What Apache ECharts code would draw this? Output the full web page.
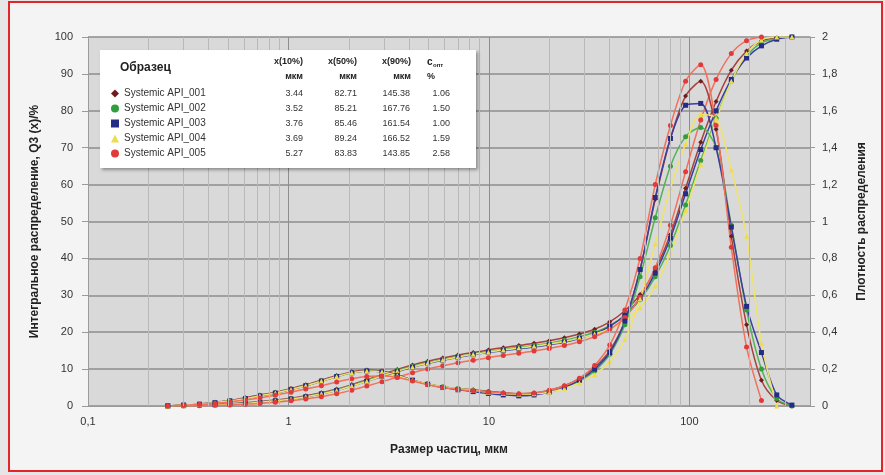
<!DOCTYPE html>
<html>
<head>
<meta charset="utf-8">
<script src="https://cdn.jsdelivr.net/npm/echarts@6/dist/echarts.min.js"></script>
<style>
  html, body { margin: 0; padding: 0; background: #e6e6e6; }
  #frame { position: absolute; left: 8px; top: 1px; width: 871px; height: 467px; border: 2px solid #e3242b; background: #f4f4f4; }
  #chart { position: absolute; left: 0; top: 0; width: 885px; height: 475px; }
</style>
</head>
<body>
<div id="frame"></div>
<div id="chart"></div>
<script>
// particle size classes, µm
const sizes = [0.25, 0.30, 0.36, 0.43, 0.51, 0.61, 0.72, 0.86, 1.03, 1.22, 1.46, 1.74, 2.07, 2.46, 2.93, 3.49, 4.16, 4.95, 5.89, 7.01,
  8.35, 9.94, 11.8, 14.1, 16.8, 20.0, 23.8, 28.3, 33.7, 40.1, 47.7, 56.8, 67.6, 80.5, 95.8, 114, 136, 162, 193, 229, 273, 325];

const names = ['Systemic API_001', 'Systemic API_002', 'Systemic API_003', 'Systemic API_004', 'Systemic API_005'];
const x10 = ['3.44', '3.52', '3.76', '3.69', '5.27'];
const x50 = ['82.71', '85.21', '85.46', '89.24', '83.83'];
const x90 = ['145.38', '167.76', '161.54', '166.52', '143.85'];
const copt = ['1.06', '1.50', '1.00', '1.59', '2.58'];

// cumulative Q3, %
const q3_001 = [0, 0.1, 0.25, 0.4, 0.6, 0.9, 1.2, 1.6, 2.1, 2.8, 3.6, 4.6, 5.8, 7.1, 8.5, 9.9, 11.1, 12.1, 13.0, 13.8, 14.5,
  15.2, 15.8, 16.4, 17.0, 17.7, 18.5, 19.5, 20.8, 22.8, 25.8, 30.2, 37.0, 46.5, 59.0, 71.5, 82.5, 91.0, 96.2, 98.9, 99.8, 100];
const q3_002 = [0, 0.1, 0.2, 0.35, 0.55, 0.8, 1.1, 1.5, 2.0, 2.6, 3.4, 4.4, 5.6, 6.9, 8.3, 9.6, 10.8, 11.8, 12.6, 13.4, 14.1,
  14.7, 15.3, 15.9, 16.4, 17.0, 17.8, 18.8, 20.0, 21.8, 24.6, 28.8, 35.0, 43.5, 54.5, 66.5, 78.0, 88.0, 94.8, 98.4, 99.6, 100];
const q3_003 = [0, 0.1, 0.2, 0.35, 0.5, 0.75, 1.05, 1.4, 1.9, 2.5, 3.3, 4.2, 5.4, 6.7, 8.0, 9.3, 10.5, 11.5, 12.4, 13.2, 13.9,
  14.5, 15.0, 15.5, 16.0, 16.6, 17.3, 18.3, 19.6, 21.6, 24.6, 29.2, 36.0, 45.5, 57.5, 69.5, 80.0, 88.5, 94.3, 97.6, 99.4, 100];
const q3_004 = [0, 0.1, 0.2, 0.3, 0.5, 0.7, 1.0, 1.4, 1.9, 2.5, 3.3, 4.2, 5.4, 6.7, 8.1, 9.4, 10.6, 11.6, 12.5, 13.3, 14.0,
  14.6, 15.2, 15.7, 16.2, 16.8, 17.5, 18.4, 19.5, 20.9, 23.0, 26.6, 32.5, 41.5, 53.0, 65.5, 77.5, 88.0, 95.5, 99.2, 100, 100];
const q3_005 = [0, 0.05, 0.1, 0.2, 0.3, 0.5, 0.7, 1.0, 1.4, 1.9, 2.5, 3.3, 4.3, 5.4, 6.6, 7.8, 9.0, 10.0, 10.9, 11.7, 12.4,
  13.1, 13.7, 14.3, 14.9, 15.6, 16.4, 17.4, 18.8, 20.8, 24.0, 29.5, 37.5, 49.0, 63.5, 77.5, 88.5, 95.5, 99.0, 100, null, null];

// density q3lg
const q3lg_001 = [0, 0.005, 0.01, 0.02, 0.03, 0.045, 0.06, 0.075, 0.095, 0.115, 0.14, 0.165, 0.185, 0.195, 0.19, 0.17, 0.14, 0.12,
  0.105, 0.095, 0.088, 0.08, 0.072, 0.066, 0.07, 0.085, 0.11, 0.15, 0.21, 0.30, 0.46, 0.74, 1.12, 1.45, 1.68, 1.76, 1.50, 0.92,
  0.44, 0.14, 0.03, 0];
const q3lg_002 = [0, 0.005, 0.01, 0.018, 0.028, 0.04, 0.055, 0.07, 0.09, 0.11, 0.135, 0.16, 0.18, 0.19, 0.185, 0.165, 0.14, 0.12,
  0.105, 0.095, 0.085, 0.076, 0.068, 0.062, 0.065, 0.078, 0.10, 0.135, 0.19, 0.28, 0.44, 0.70, 1.02, 1.30, 1.46, 1.51, 1.40, 0.98,
  0.52, 0.20, 0.04, 0];
const q3lg_003 = [0, 0.005, 0.01, 0.018, 0.028, 0.04, 0.055, 0.07, 0.09, 0.11, 0.135, 0.16, 0.18, 0.19, 0.185, 0.165, 0.14, 0.118,
  0.10, 0.088, 0.078, 0.068, 0.06, 0.055, 0.06, 0.075, 0.10, 0.14, 0.20, 0.29, 0.46, 0.74, 1.13, 1.45, 1.63, 1.64, 1.40, 0.97,
  0.54, 0.29, 0.06, 0.005];
const q3lg_004 = [0, 0.005, 0.01, 0.018, 0.028, 0.04, 0.055, 0.07, 0.09, 0.11, 0.135, 0.16, 0.18, 0.19, 0.185, 0.165, 0.14, 0.12,
  0.105, 0.094, 0.084, 0.075, 0.068, 0.064, 0.066, 0.075, 0.095, 0.125, 0.17, 0.24, 0.36, 0.58, 0.88, 1.18, 1.42, 1.58, 1.56, 1.28,
  0.92, 0.34, 0, null];
const q3lg_005 = [0, 0.004, 0.008, 0.014, 0.022, 0.032, 0.044, 0.058, 0.075, 0.092, 0.11, 0.13, 0.148, 0.16, 0.162, 0.155, 0.135,
  0.115, 0.10, 0.09, 0.082, 0.076, 0.07, 0.066, 0.07, 0.085, 0.11, 0.15, 0.22, 0.33, 0.52, 0.80, 1.20, 1.52, 1.76, 1.85, 1.52, 0.86,
  0.32, 0.03, null, null];

// minor vertical gridlines of the log axis
const minorTicks = [0.2, 0.3, 0.4, 0.5, 0.6, 0.7, 0.8, 0.9, 2, 3, 4, 5, 6, 7, 8, 9, 20, 30, 40, 50, 60, 70, 80, 90, 200, 300];

const cumulative = [q3_001, q3_002, q3_003, q3_004, q3_005];
const density = [q3lg_001, q3lg_002, q3lg_003, q3lg_004, q3lg_005];

const lineColors = ['#a8403c', '#52b452', '#3a3f9e', '#f0e36a', '#f2705c'];
const markColors = ['#6e1c1e', '#2f9e3f', '#262b86', '#efdc4e', '#e23a3a'];
const symbols = ['diamond', 'circle', 'rect', 'triangle', 'circle'];

const FONT = '"Liberation Sans", Arial, sans-serif';

function toPoints(values) {
  const pts = [];
  sizes.forEach((x, i) => {
    if (values[i] !== null && values[i] !== undefined) pts.push([x, values[i]]);
  });
  return pts;
}

function makeSeries(i, values, axis) {
  return {
    name: names[i],
    type: 'line',
    yAxisIndex: axis,
    data: toPoints(values),
    smooth: 0.3,
    symbol: symbols[i],
    symbolSize: 5,
    showSymbol: true,
    lineStyle: { color: lineColors[i], width: 1.5 },
    itemStyle: { color: markColors[i] },
    z: 2
  };
}

const series = [
  {
    name: 'minor',
    type: 'line',
    data: [],
    silent: true,
    z: 1,
    markLine: {
      silent: true,
      symbol: ['none', 'none'],
      label: { show: false },
      lineStyle: { color: '#b9b9b9', width: 1, type: 'solid' },
      emphasis: { disabled: true },
      data: minorTicks.map(v => ({ xAxis: v }))
    }
  }
];
cumulative.forEach((v, i) => series.push(makeSeries(i, v, 0)));
density.forEach((v, i) => series.push(makeSeries(i, v, 1)));

function isDecade(v) {
  const l = Math.log10(v);
  return Math.abs(l - Math.round(l)) < 1e-6;
}

const headFont = 'bold 9px ' + FONT;

const chart = echarts.init(document.getElementById('chart'));
chart.setOption({
  animation: false,
  textStyle: { fontFamily: FONT },
  grid: { left: 88, right: 75, top: 37, bottom: 69, show: true, backgroundColor: '#d9d9d9', borderWidth: 0 },
  legend: {
    orient: 'vertical',
    left: 111,
    top: 88,
    itemWidth: 8,
    itemHeight: 8,
    itemGap: 4,
    padding: 0,
    selectedMode: false,
    z: 60,
    data: names.map((n, i) => ({ name: n, icon: symbols[i] })),
    formatter: function (name) {
      const i = names.indexOf(name);
      return '{n|' + name + '}{a|' + x10[i] + '}{b|' + x50[i] + '}{c|' + x90[i] + '}{d|' + copt[i] + '}';
    },
    textStyle: {
      fontSize: 10, color: '#333', fontFamily: FONT,
      rich: {
        n: { width: 136, fontSize: 10, height: 11, lineHeight: 11, color: '#333' },
        a: { width: 43, align: 'right', fontSize: 9, height: 11, lineHeight: 11, color: '#333' },
        b: { width: 54, align: 'right', fontSize: 9, height: 11, lineHeight: 11, color: '#333' },
        c: { width: 53, align: 'right', fontSize: 9, height: 11, lineHeight: 11, color: '#333' },
        d: { width: 40, align: 'right', fontSize: 9, height: 11, lineHeight: 11, color: '#333' }
      }
    }
  },
  graphic: [
    {
      type: 'rect', z: 50, zlevel: 0, silent: true,
      shape: { x: 100, y: 50, width: 376, height: 118 },
      style: { fill: '#ffffff', shadowBlur: 3, shadowOffsetX: 2, shadowOffsetY: 2, shadowColor: 'rgba(0,0,0,0.35)' }
    },
    { type: 'text', z: 61, x: 120, y: 68, style: { text: 'Образец', font: 'bold 12px ' + FONT, fill: '#222', align: 'left', verticalAlign: 'middle' } },
    { type: 'text', z: 61, x: 303, y: 62, style: { text: 'x(10%)', font: headFont, fill: '#222', align: 'right', verticalAlign: 'middle' } },
    { type: 'text', z: 61, x: 303, y: 77, style: { text: 'мкм', font: headFont, fill: '#222', align: 'right', verticalAlign: 'middle' } },
    { type: 'text', z: 61, x: 357, y: 62, style: { text: 'x(50%)', font: headFont, fill: '#222', align: 'right', verticalAlign: 'middle' } },
    { type: 'text', z: 61, x: 357, y: 77, style: { text: 'мкм', font: headFont, fill: '#222', align: 'right', verticalAlign: 'middle' } },
    { type: 'text', z: 61, x: 411, y: 62, style: { text: 'x(90%)', font: headFont, fill: '#222', align: 'right', verticalAlign: 'middle' } },
    { type: 'text', z: 61, x: 411, y: 77, style: { text: 'мкм', font: headFont, fill: '#222', align: 'right', verticalAlign: 'middle' } },
    { type: 'text', z: 61, x: 427, y: 62, style: { text: 'c', font: 'bold 10px ' + FONT, fill: '#222', align: 'left', verticalAlign: 'middle' } },
    { type: 'text', z: 61, x: 433, y: 65, style: { text: 'опт', font: 'bold 6px ' + FONT, fill: '#222', align: 'left', verticalAlign: 'middle' } },
    { type: 'text', z: 61, x: 427, y: 77, style: { text: '%', font: headFont, fill: '#222', align: 'left', verticalAlign: 'middle' } }
  ],
  xAxis: {
    type: 'log',
    logBase: 10,
    min: 0.1,
    max: 400,
    name: 'Размер частиц, мкм',
    nameLocation: 'middle',
    nameGap: 38,
    nameTextStyle: { fontWeight: 'bold', fontSize: 12, color: '#222', fontFamily: FONT },
    axisLine: { show: true, onZero: false, lineStyle: { color: '#9a9a9a' } },
    axisTick: { show: false },
    axisLabel: {
      fontSize: 11, color: '#333', margin: 10,
      formatter: v => isDecade(v) ? String(+v.toPrecision(3)).replace('.', ',') : ''
    },
    splitLine: { show: true, lineStyle: { color: '#8e8e8e', width: 1 } }
  },
  yAxis: [
    {
      type: 'value',
      min: 0, max: 100, interval: 10,
      position: 'left',
      name: 'Интегральное распределение, Q3 (x)/%',
      nameLocation: 'middle',
      nameRotate: 90,
      nameGap: 47,
      nameTextStyle: { fontWeight: 'bold', fontSize: 12, color: '#222', fontFamily: FONT },
      axisLine: { show: true, lineStyle: { color: '#9a9a9a' } },
      axisTick: { show: true, length: 6, lineStyle: { color: '#9a9a9a' } },
      axisLabel: { fontSize: 11, color: '#333', margin: 15 },
      splitLine: { show: true, lineStyle: { color: '#8c8c8c', width: 1.5 } }
    },
    {
      type: 'value',
      min: 0, max: 2, interval: 0.2,
      position: 'right',
      name: 'Плотность распределения',
      nameLocation: 'middle',
      nameRotate: 90,
      nameGap: 46,
      nameTextStyle: { fontWeight: 'bold', fontSize: 12, color: '#222', fontFamily: FONT },
      axisLine: { show: true, lineStyle: { color: '#9a9a9a' } },
      axisTick: { show: true, length: 5, lineStyle: { color: '#9a9a9a' } },
      axisLabel: {
        fontSize: 11, color: '#333', margin: 12,
        formatter: v => String(Math.round(v * 10) / 10).replace('.', ',')
      },
      splitLine: { show: false }
    }
  ],
  series: series
});
</script>
</body>
</html>
